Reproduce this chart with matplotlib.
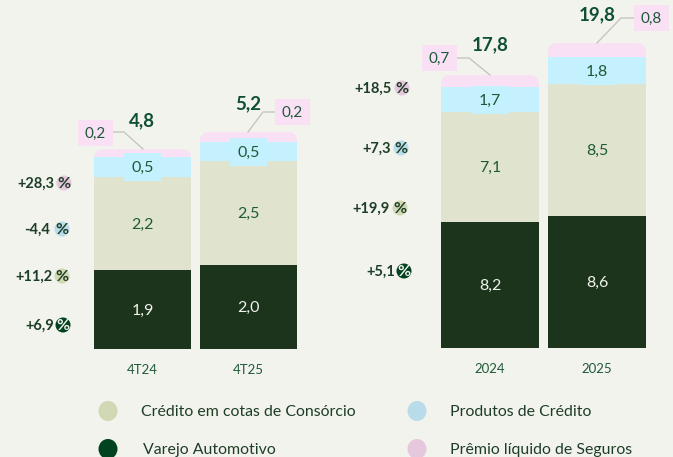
import matplotlib
matplotlib.use("Agg")
import matplotlib.pyplot as plt
from matplotlib.patches import Ellipse, FancyBboxPatch, Rectangle
from matplotlib.transforms import IdentityTransform

plt.rcParams['font.family'] = ['Lato', 'DejaVu Sans']

BG = '#f2f3ec'
COL_DARK, COL_SAGE, COL_BLUE, COL_PINK = '#1c331c', '#e0e4ce', '#c5f0fe', '#f9e0f5'
LEG_DARK, LEG_SAGE, LEG_BLUE, LEG_PINK = '#01421f', '#d0d8b4', '#b8dcea', '#e6c8de'
TXT = '#1f5a38'; TXT_DARK = '#1e3d26'

# Data (bar heights; labels as printed)
left_cats = ['4T24', '4T25']
left_varejo = [1.89, 2.01]
left_consorcio = [2.23, 2.49]
left_credito = [0.48, 0.46]
left_seguros = [0.19, 0.24]
left_totals = ['4,8', '5,2']
left_lab_varejo = ['1,9', '2,0']
left_lab_consorcio = ['2,2', '2,5']
left_lab_credito = ['0,5', '0,5']
left_lab_seguros = ['0,2', '0,2']
left_growth = ['+6,9', '+11,2', '-4,4', '+28,3']

right_cats = ['2024', '2025']
right_varejo = [8.18, 8.57]
right_consorcio = [7.14, 8.57]
right_credito = [1.62, 1.75]
right_seguros = [0.78, 0.91]
right_totals = ['17,8', '19,8']
right_lab_varejo = ['8,2', '8,6']
right_lab_consorcio = ['7,1', '8,5']
right_lab_credito = ['1,7', '1,8']
right_lab_seguros = ['0,7', '0,8']
right_growth = ['+5,1', '+19,9', '+7,3', '+18,5']

legend_labels = ['Crédito em cotas de Consórcio', 'Produtos de Crédito', 'Varejo Automotivo', 'Prêmio líquido de Seguros']

W, H = 673, 457
fig = plt.figure(figsize=(W/100, H/100), dpi=100, facecolor=BG)


def stacked(x0, x1, base, ppu, pitch, cats, series, labs, bw):
    ax = fig.add_axes([x0/W, (H-base)/H, (x1-x0)/W, base/H])
    ax.patch.set_alpha(0)
    xs = range(len(cats))
    half = bw/2
    ax.set_xlim(-half, 1+half)
    ax.set_ylim(0, base/ppu)
    for s in ax.spines.values():
        s.set_visible(False)
    ax.set_yticks([])
    ax.set_xticks(list(xs), cats)
    ax.tick_params(axis='x', length=0, pad=11, labelsize=9.5, labelcolor=TXT)
    fig.canvas.draw()
    bottoms = [0, 0]
    cols = [COL_DARK, COL_SAGE, COL_BLUE, COL_PINK]
    tcols = ['#f2f3ec', TXT, TXT, TXT]
    for k, (vals, c) in enumerate(zip(series, cols)):
        bars = ax.bar(xs, vals, bw, bottom=bottoms, color=c, linewidth=0, zorder=2)
        if k == 3:
            for b in bars:
                (px0, py0) = ax.transData.transform((b.get_x(), 0))
                (px1, py1) = ax.transData.transform((b.get_x()+b.get_width(), b.get_y()+b.get_height()))
                r = 9
                clip = FancyBboxPatch((px0+r, py0+r), px1-px0-2*r, py1-py0-2*r,
                                      boxstyle=f'round,pad={r},rounding_size={r}',
                                      transform=IdentityTransform())
                b.set_clip_path(clip)
        if k < 3:
            for i, v in enumerate(vals):
                ymid = bottoms[i] + v/2
                if k == 2:
                    bw_box, bh_box = 37/pitch, 28/ppu
                    ax.add_patch(Rectangle((i-bw_box/2, ymid-bh_box/2), bw_box, bh_box,
                                           fc=COL_BLUE, ec='none', zorder=3))
                ax.annotate(labs[k][i], (i, ymid), xytext=(0, -0.7), textcoords='offset points',
                            ha='center', va='center', fontsize=11.5, color=tcols[k], zorder=4)
        bottoms = [a+b for a, b in zip(bottoms, vals)]
    return ax


stacked(94, 297, 349, 41.7, 106, left_cats,
        [left_varejo, left_consorcio, left_credito, left_seguros],
        [left_lab_varejo, left_lab_consorcio, left_lab_credito], 97/106)
stacked(441, 646, 348, 15.4, 107, right_cats,
        [right_varejo, right_consorcio, right_credito, right_seguros],
        [right_lab_varejo, right_lab_consorcio, right_lab_credito], 98/107)

ov = fig.add_axes([0, 0, 1, 1])
ov.set_xlim(0, W); ov.set_ylim(H, 0); ov.axis('off'); ov.patch.set_alpha(0)

# Pink callouts with connector lines and totals
callouts = [
    (78, 120, [(113, 132), (124, 132), (143, 149)], left_lab_seguros[0], (142, 121), left_totals[0]),
    (275, 99, [(275, 112), (263, 112), (248, 132)], left_lab_seguros[1], (248, 104), left_totals[1]),
    (422, 45, [(457, 58), (469, 58), (490, 75)], right_lab_seguros[0], (490, 45), right_totals[0]),
    (634, 5, [(634, 18), (621, 18), (597, 43)], right_lab_seguros[1], (597, 15), right_totals[1]),
]
for bx, by, pts, lab, tp, tot in callouts:
    ov.plot([p[0] for p in pts], [p[1] for p in pts], color='#c4c6c0', lw=1, zorder=1)
    ov.add_patch(Rectangle((bx, by), 35, 26, fc=COL_PINK, ec='none', zorder=2))
    ov.text(bx+17.5, by+13.5, lab, ha='center', va='center', fontsize=11, color=TXT, zorder=3)
    ov.text(tp[0], tp[1], tot, ha='center', va='center', fontsize=13.5, fontweight='bold', color='#0f5030')

# Growth rates
growth = [
    (63, 325, LEG_DARK, left_growth[0], '#f2f3ec', 54), (62, 276, LEG_SAGE, left_growth[1], TXT_DARK, 52),
    (62, 229, LEG_BLUE, left_growth[2], TXT_DARK, 50), (64, 183, LEG_PINK, left_growth[3], TXT_DARK, 54),
    (404, 271, LEG_DARK, right_growth[0], '#f2f3ec', 395), (400, 208, LEG_SAGE, right_growth[1], TXT_DARK, 390),
    (401, 148, LEG_BLUE, right_growth[2], TXT_DARK, 391), (402, 88, LEG_PINK, right_growth[3], TXT_DARK, 392),
]
for cx, cy, c, lab, pc, tx in growth:
    ov.add_patch(Ellipse((cx, cy), 15, 15, fc=c, ec='none'))
    ov.text(cx, cy+1, '%', ha='center', va='center', fontsize=11.5, fontweight='bold', color=pc)
    ov.text(tx, cy+1, lab, ha='right', va='center', fontsize=10.5, fontweight='bold', color=TXT_DARK)

# Legend
legend = [(108, 411, LEG_SAGE, 141), (417, 411, LEG_BLUE, 450), (108, 449, LEG_DARK, 143), (417, 449, LEG_PINK, 450)]
for (cx, cy, c, tx), lab in zip(legend, legend_labels):
    ov.add_patch(Ellipse((cx, cy), 19, 20, fc=c, ec='none'))
    ov.text(tx, cy+1, lab, ha='left', va='center', fontsize=11.4, color=TXT_DARK)

fig.savefig('out.png', dpi=100, facecolor=BG)
